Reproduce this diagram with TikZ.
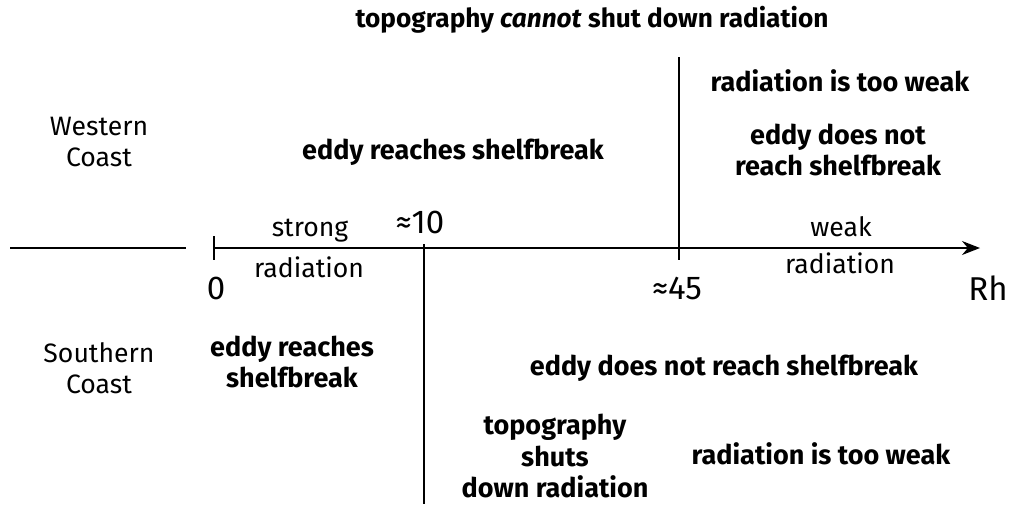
\documentclass[tikz,border=0pt]{standalone}
\usepackage{fontspec}
\setmainfont{Fira Sans}
\usetikzlibrary{arrows.meta}
\begin{document}
\begin{tikzpicture}[x=0.5pt, y=-0.5pt,
        txt/.style={font=\fontsize{13.3}{15.7}\selectfont, align=center, inner sep=0pt},
        bold_txt/.style={font=\fontsize{13.5}{15.7}\selectfont\bfseries, align=center, inner sep=0pt},
        num/.style={font=\fontsize{16.5}{18}\selectfont, inner sep=0pt},
        axis_line/.style={line width=0.7pt}
    ]
    \useasboundingbox (0,0) rectangle (1011,504);

    % Asse Rh
    \coordinate (lstart) at (10,248);
    \coordinate (lend) at (186,248);
    \coordinate (origin) at (214,248);
    \coordinate (tip) at (980,248);
    \draw[axis_line] (lstart) -- (lend);
    \draw[axis_line, -{Stealth[length=9pt, width=7pt]}] (origin) -- (tip);
    \coordinate (tick_top) at (214,236);
    \coordinate (tick_bot) at (214,260);
    \draw[axis_line] (tick_top) -- (tick_bot);

    % Soglie
    \coordinate (ten_top) at (424,244);
    \coordinate (ten_bot) at (424,504);
    \coordinate (ff_top) at (679,57);
    \coordinate (ff_bot) at (679,260);
    \draw[axis_line] (ten_top) -- (ten_bot);
    \draw[axis_line] (ff_top) -- (ff_bot);

    % Valori sull'asse
    \node[num] (zero) at (216,288) {0};
    \node[num] (ten) at (420,222) {≈10};
    \node[num] (ff) at (677,288) {≈45};
    \node[num] (rh) at (988,288) {Rh};
    \node[txt] (strong) at (310,231) {strong};
    \node[txt] (strongrad) at (309,267) {radiation};
    \node[txt] (weak) at (841,227) {weak};
    \node[txt] (weakrad) at (840,263) {radiation};

    % Costa occidentale
    \node[txt] (west) at (99,142) {Western\\Coast};
    \node[bold_txt, font=\fontsize{13.1}{15.7}\selectfont\bfseries] (topo_top) at (592,20) {topography \textit{cannot} shut down radiation};
    \node[bold_txt] (weak_top) at (840,81) {radiation is too weak};
    \node[bold_txt] (reach_top) at (453,152) {eddy reaches shelfbreak};
    \node[bold_txt] (noreach_top) at (838,150) {eddy does not\\reach shelfbreak};

    % Costa meridionale
    \node[txt] (south) at (99,368) {Southern\\Coast};
    \node[bold_txt] (reach_bot) at (292,362) {eddy reaches\\shelfbreak};
    \node[bold_txt] (noreach_bot) at (724,368) {eddy does not reach shelfbreak};
    \node[bold_txt] (topo_bot) at (555,456) {topography\\shuts\\down radiation};
    \node[bold_txt] (weak_bot) at (821,454) {radiation is too weak};
\end{tikzpicture}
\end{document}
